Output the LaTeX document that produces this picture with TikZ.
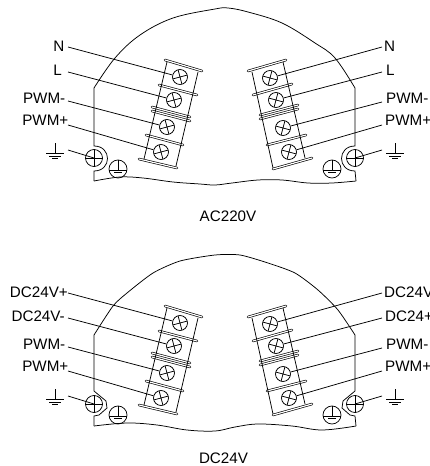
\documentclass[tikz,border=0pt]{standalone}
\usepackage{fontspec}
\setmainfont{Liberation Sans}
\usetikzlibrary{calc}
\tikzset{
  x=1pt,y=-1pt,
  ln/.style={line width=0.75pt,black},
  wire/.style={line width=0.75pt,black},
  barline/.style={double=white,double distance=1.2pt,line width=0.65pt,black,line cap=round},
  screw/.style={circle,draw,line width=0.75pt,minimum size=15pt,inner sep=0pt},
  gscrew/.style={circle,draw,line width=0.75pt,minimum size=17pt,inner sep=0pt},
  earth/.style={circle,draw,line width=0.75pt,minimum size=18pt,inner sep=0pt},
  lab/.style={font=\fontsize{15.2}{15}\selectfont,inner sep=0pt,text=black},
  labl/.style={lab,anchor=east},
  labr/.style={lab,anchor=west},
}
% screw: name, x, y, angle
\newcommand{\myscrew}[4]{%
  \node[screw] (#1) at (#2,#3) {};
  \draw[ln,rotate around={#4:(#1.center)}] ($(#1.center)+(-7.5,0)$) -- ($(#1.center)+(7.5,0)$)
     ($(#1.center)+(0,-7.5)$) -- ($(#1.center)+(0,7.5)$);
}
\newcommand{\mygnd}[3]{%
  \node[inner sep=0pt,minimum size=1pt] (#1) at (#2,#3) {};
  \draw[ln] (#1.center) ++(0,-10) -- (#1.center)
    (#1.center) ++(-9,0) -- ++(18,0)
    (#1.center) ++(-6,3) -- ++(12,0)
    (#1.center) ++(-3,5.5) -- ++(6,0);
}
\newcommand{\myearth}[3]{%
  \node[earth] (#1) at (#2,#3) {};
  \draw[ln] (#1.north) -- ++(0,10)
    ($(#1.center)+(-4,3.5)$) -- ++(8,0)
    ($(#1.center)+(-9,1)$) -- ++(18,0);
}
% #1 prefix, #2 left-top label anchor x, #3-#5 etc
\newcommand{\myblocks}[1]{%
  \draw[barline] (165,60) -- (202,71);
  \draw[barline] (159,85) -- (197,95);
  \draw[barline] (152,107) -- (190,117);
  \draw[barline] (152,111) -- (190,121);
  \draw[barline] (146,135) -- (183,145);
  \draw[barline] (139,159) -- (177,168);
  \draw[ln] (167,62) -- (144,159) (198,72) -- (176,166);
  \myscrew{#1a}{180}{77}{15}
  \myscrew{#1b}{174}{100}{15}
  \myscrew{#1c}{167}{127}{15}
  \myscrew{#1d}{161}{152}{15}
  \draw[barline] (248,71) -- (286,60);
  \draw[barline] (253,95) -- (292,84);
  \draw[barline] (260,115) -- (298,105);
  \draw[barline] (260,119) -- (298,109);
  \draw[barline] (267,145) -- (306,135);
  \draw[barline] (273,169) -- (312,158);
  \draw[ln] (252,72) -- (273,168) (283,62) -- (305,158);
  \myscrew{#1e}{270}{78}{-15}
  \myscrew{#1f}{276}{100}{-15}
  \myscrew{#1g}{283}{128}{-15}
  \myscrew{#1h}{289}{152}{-15}
  \node[gscrew] (#1gl) at (94,158) {};
  \draw[ln] (#1gl.west) -- (#1gl.east) (#1gl.north) -- (#1gl.south);
  \node[gscrew] (#1gr) at (355,158) {};
  \draw[ln] (#1gr.west) -- (#1gr.east) (#1gr.north) -- (#1gr.south);
  \myearth{#1el}{118}{169}
  \myearth{#1er}{332}{169}
  \mygnd{#1sl}{55}{153}
  \mygnd{#1sr}{395}{153}
  \coordinate (#1wa) at (68,47);
  \coordinate (#1wb) at (68,72);
  \coordinate (#1wc) at (68,101);
  \coordinate (#1wd) at (68,125);
  \coordinate (#1we) at (382,47);
  \coordinate (#1wf) at (382,72);
  \coordinate (#1wg) at (382,102);
  \coordinate (#1wh) at (382,125);
  \coordinate (#1wsl) at (68,150);
  \coordinate (#1wsr) at (382,150);
  \draw[wire] (#1wa) -- (#1a) (#1wb) -- (#1b) (#1wc) -- (#1c) (#1wd) -- (#1d);
  \draw[wire] (#1we) -- (#1e) (#1wf) -- (#1f) (#1wg) -- (#1g) (#1wh) -- (#1h);
  \draw[wire] (#1wsl) -- (#1gl.center) (#1wsr) -- (#1gr.center);
}
\begin{document}
\begin{tikzpicture}
\useasboundingbox (0,0) rectangle (430,466);
% top housing
\draw[ln] plot[smooth,tension=0.6] coordinates {(94,88) (115,58) (140,35) (173,18) (215,9) (228,8) (248,12) (282,23) (315,43) (335,58) (355,88)};
\draw[ln] (94,88) -- (94,146) .. controls (112,146) and (112,171) .. (94,171) -- (94,181);
\draw[ln] (355,88) -- (355,146) .. controls (337,146) and (337,171) .. (355,171) -- (356,181);
\draw[ln] plot[smooth,tension=0.6] coordinates {(94,181) (120,177) (143,178) (173,182) (200,184) (215,185) (232,183) (258,180) (282,180) (308,183) (332,183) (356,181)};
\myblocks{t}
\node[labl] (tla) at (64.5,46) {N};
\node[labl] (tlb) at (62,70) {L};
\node[labl] (tlc) at (65.5,98) {PWM-};
\node[labl] (tld) at (68.5,120) {PWM+};
\node[labr] (tre) at (384,46) {N};
\node[labr] (trf) at (386,70) {L};
\node[labr] (trg) at (386,98) {PWM-};
\node[labr] (trh) at (385,120) {PWM+};
\node[lab] (capa) at (228,216) {AC220V};
% bottom housing
\draw[ln] plot[smooth,tension=0.4] coordinates {(94,335) (113,306) (127,293) (153,273) (180,261) (215,255) (240,255) (268,263) (295,273) (318,290) (338,310) (355,335)};
\draw[ln] (94,335) -- (94,391) -- (106,401) -- (107,408) -- (99,415) -- (94,416) -- (94,426);
\draw[ln] (355,335) -- (355,391) -- (343,401) -- (342,408) -- (350,415) -- (355,416) -- (356,426);
\draw[ln] plot[smooth,tension=0.6] coordinates {(94,426) (127,423) (157,425) (187,430) (215,431) (235,427) (258,424) (292,426) (322,430) (356,426)};
\begin{scope}[yshift=-246pt]
\myblocks{b}
\node[labl] (bla) at (68,46) {DC24V+};
\node[labl] (blb) at (65,70) {DC24V-};
\node[labl] (blc) at (65.5,98) {PWM-};
\node[labl] (bld) at (68.5,120) {PWM+};
\node[labr] (bre) at (384,46) {DC24V};
\node[labr] (brf) at (385,70) {DC24+};
\node[labr] (brg) at (386,98) {PWM-};
\node[labr] (brh) at (385,120) {PWM+};
\end{scope}
\node[lab] (capb) at (223.5,458) {DC24V};
\end{tikzpicture}
\end{document}
